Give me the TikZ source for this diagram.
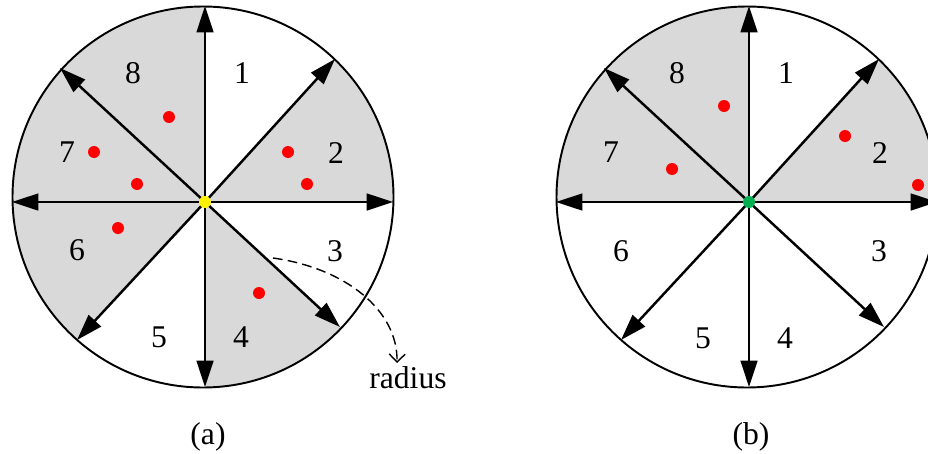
\documentclass[tikz,border=0pt]{standalone}
\usepackage{fontspec}
\setmainfont{Liberation Serif}
\definecolor{sectorgray}{RGB}{217,217,217}
\definecolor{hubgreen}{RGB}{0,176,80}
\usetikzlibrary{arrows.meta,calc}

\begin{document}
\begin{tikzpicture}[
            x=0.02cm, y=-0.02cm,
            rim/.style={draw, line width=1.1pt},
            sector/.style={fill=sectorgray},
            arrow/.style={-{Triangle[length=15pt,width=9.5pt]}, line width=1.4pt},
            reddot/.style={circle, fill=red, inner sep=0pt, minimum size=0.24cm},
            hub/.style={circle, inner sep=0pt, minimum size=0.24cm},
            num/.style={font=\fontsize{18pt}{21pt}\selectfont, inner sep=0pt},
            callout/.style={dash pattern=on 5.5pt off 3pt, line width=0.8pt,
                           -{Straight Barb[length=4.5pt,width=9pt]}}
        ]
            \clip (0,0) rectangle (928,453);

            % Panel (a)
            \coordinate (oa) at (205,202);
            \coordinate (ca) at (203,197);
            \coordinate (aup) at (205,6);
            \coordinate (aur) at (335,59);
            \coordinate (art) at (393,202);
            \coordinate (adr) at (340,327);
            \coordinate (adn) at (205,387);
            \coordinate (adl) at (77,340);
            \coordinate (alt) at (12,202);
            \coordinate (aul) at (60,68);

            \begin{scope}
                \clip (ca) circle[radius=190.5];
                \fill[sector] (oa) -- ($(oa)!2!(aup)$) -- ($(oa)!2!(aul)$)
                    -- ($(oa)!2!(alt)$) -- ($(oa)!2!(adl)$) -- cycle;
                \fill[sector] (oa) -- ($(oa)!2!(adn)$) -- ($(oa)!2!(adr)$) -- cycle;
                \fill[sector] (oa) -- ($(oa)!2!(aur)$) -- ($(oa)!2!(art)$) -- cycle;
            \end{scope}
            \draw[rim] (ca) circle[radius=190.5];

            \draw[arrow] (oa) -- (aup);
            \draw[arrow] (oa) -- (aur);
            \draw[arrow] (oa) -- (art);
            \draw[arrow] (oa) -- (adr);
            \draw[arrow] (oa) -- (adn);
            \draw[arrow] (oa) -- (adl);
            \draw[arrow] (oa) -- (alt);
            \draw[arrow] (oa) -- (aul);

            \node[reddot] (adot8) at (169,117) {};
            \node[reddot] (adot7a) at (94,152) {};
            \node[reddot] (adot7b) at (137,184) {};
            \node[reddot] (adot6) at (118,228) {};
            \node[reddot] (adot2a) at (288,152) {};
            \node[reddot] (adot2b) at (307,184) {};
            \node[reddot] (adot4) at (259,293) {};
            \node[hub, fill=yellow] (ahub) at (oa) {};

            \node[num] (an1) at (242,73) {1};
            \node[num] (an2) at (336,153) {2};
            \node[num] (an3) at (335,251) {3};
            \node[num] (an4) at (241,337) {4};
            \node[num] (an5) at (159,337) {5};
            \node[num] (an6) at (77,250) {6};
            \node[num] (an7) at (67,152) {7};
            \node[num] (an8) at (133,73) {8};

            % radius callout
            \coordinate (rstart) at (273,258);
            \coordinate (rtip) at (397,363);
            \node[num, anchor=base] (rlabel) at (408,388) {radius};
            \draw[callout] (rstart) .. controls (345,268) and (398,310) .. (rtip);

            \node[num] (acap) at (208,437) {(a)};

            % Panel (b)
            \coordinate (ob) at (749,202);
            \coordinate (cb) at (747,197);
            \coordinate (bup) at (749,6);
            \coordinate (bur) at (879,59);
            \coordinate (brt) at (937,202);
            \coordinate (bdr) at (884,327);
            \coordinate (bdn) at (749,387);
            \coordinate (bdl) at (621,340);
            \coordinate (blt) at (556,202);
            \coordinate (bul) at (604,68);

            \begin{scope}
                \clip (cb) circle[radius=190.5];
                \fill[sector] (ob) -- ($(ob)!2!(bup)$) -- ($(ob)!2!(bul)$)
                    -- ($(ob)!2!(blt)$) -- cycle;
                \fill[sector] (ob) -- ($(ob)!2!(bur)$) -- ($(ob)!2!(brt)$) -- cycle;
            \end{scope}
            \draw[rim] (cb) circle[radius=190.5];

            \draw[arrow] (ob) -- (bup);
            \draw[arrow] (ob) -- (bur);
            \draw[arrow] (ob) -- (brt);
            \draw[arrow] (ob) -- (bdr);
            \draw[arrow] (ob) -- (bdn);
            \draw[arrow] (ob) -- (bdl);
            \draw[arrow] (ob) -- (blt);
            \draw[arrow] (ob) -- (bul);

            \node[reddot] (bdot8) at (724,106) {};
            \node[reddot] (bdot7) at (672,169) {};
            \node[reddot] (bdot2a) at (845,136) {};
            \node[reddot] (bdot2b) at (918,185) {};
            \node[hub, fill=hubgreen] (bhub) at (ob) {};

            \node[num] (bn1) at (786,73) {1};
            \node[num] (bn2) at (880,153) {2};
            \node[num] (bn3) at (879,251) {3};
            \node[num] (bn4) at (785,338) {4};
            \node[num] (bn5) at (703,338) {5};
            \node[num] (bn6) at (621,251) {6};
            \node[num] (bn7) at (611,152) {7};
            \node[num] (bn8) at (677,73) {8};

            \node[num] (bcap) at (751,437) {(b)};
        \end{tikzpicture}
\end{document}
